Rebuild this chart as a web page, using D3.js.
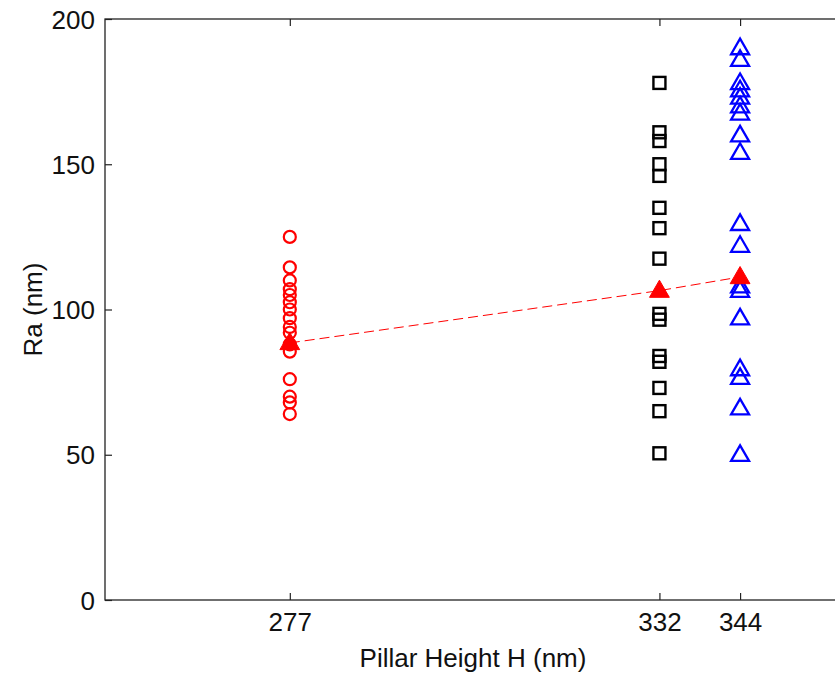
<!DOCTYPE html>
<html>
<head>
<meta charset="utf-8">
<script src="https://cdn.jsdelivr.net/npm/d3@7"></script>
<style>
  html, body { margin: 0; padding: 0; background: #fff; overflow: hidden; }
  svg { display: block; }
  text { font-family: "Liberation Sans", Arial, sans-serif; fill: #111; }
</style>
</head>
<body>
<script>
// Pillar heights (nm) used as x categories / tick labels
const heights = [277, 332, 344];
const xTicks = [277, 332, 344];
const yTicks = [0, 50, 100, 150, 200];

// Ra measurements (nm) for each pillar height
const ra277 = [125, 114.5, 110, 107, 105, 102.5, 100, 97, 94, 92, 88, 85.5, 76, 70, 68, 64];
const ra332 = [178, 161, 158, 150, 146, 135, 128, 117.5, 98.5, 96.5, 84, 82, 73, 65, 50.5];
const ra344 = [190, 186, 178, 175.5, 173, 170, 167.5, 160, 154, 129.5, 122, 108, 106.5, 97, 79.5, 76.5, 66, 50];

// Average Ra per height (filled red markers joined by dashed line)
const raMean = [88.5, 106.5, 111.2];

const W = 835, H = 675;
const margin = { left: 105, top: 19, bottom: 75 };
const plotRight = 847.6; // axes box continues past the window edge

const svg = d3.select("body").append("svg").attr("width", W).attr("height", H);

const x = d3.scaleLinear().domain([249.5, 360]).range([margin.left, plotRight]);
const y = d3.scaleLinear().domain([0, 200]).range([H - margin.bottom, margin.top]);

const axisColor = "#222";
const tickLen = 7;
const fontSize = 26;

// axes box
svg.append("rect")
  .attr("x", margin.left).attr("y", margin.top)
  .attr("width", plotRight - margin.left).attr("height", y(0) - margin.top)
  .attr("fill", "none").attr("stroke", axisColor).attr("stroke-width", 1.3);

// bottom axis (ticks inward)
const xAxis = svg.append("g").attr("transform", `translate(0,${y(0)})`)
  .call(d3.axisBottom(x).tickValues(xTicks).tickSizeInner(-tickLen).tickSizeOuter(0).tickPadding(13).tickFormat(d3.format("d")));
// top mirrored ticks
const xTop = svg.append("g").attr("transform", `translate(0,${y(200)})`)
  .call(d3.axisTop(x).tickValues(xTicks).tickSizeInner(-tickLen).tickSizeOuter(0).tickFormat(""));
// left axis (ticks inward)
const yAxis = svg.append("g").attr("transform", `translate(${margin.left},0)`)
  .call(d3.axisLeft(y).tickValues(yTicks).tickSizeInner(-tickLen).tickSizeOuter(0).tickPadding(10).tickFormat(d3.format("d")));

[xAxis, xTop, yAxis].forEach(g => {
  g.select(".domain").remove();
  g.selectAll(".tick line").attr("stroke", axisColor).attr("stroke-width", 1.2);
  g.selectAll(".tick text").attr("font-size", fontSize).attr("fill", "#111")
    .attr("font-family", "Liberation Sans, Arial, sans-serif");
});
yAxis.selectAll(".tick text").attr("dy", "0.35em");

// axis titles
svg.append("text")
  .attr("x", 473).attr("y", 667)
  .attr("text-anchor", "middle").attr("font-size", fontSize)
  .text("Pillar Height H (nm)");
svg.append("text")
  .attr("transform", `translate(42,${(y(0) + y(200)) / 2}) rotate(-90)`)
  .attr("text-anchor", "middle").attr("font-size", fontSize)
  .text("Ra (nm)");

const plot = svg.append("g");

// red circles, H = 277
plot.selectAll("circle.r277").data(ra277).join("circle")
  .attr("cx", x(heights[0])).attr("cy", d => y(d)).attr("r", 6)
  .attr("fill", "none").attr("stroke", "#ff0000").attr("stroke-width", 2.2);

// black squares, H = 332
const sq = 12;
plot.selectAll("rect.r332").data(ra332).join("rect")
  .attr("x", x(heights[1]) - sq / 2).attr("y", d => y(d) - sq / 2)
  .attr("width", sq).attr("height", sq)
  .attr("fill", "none").attr("stroke", "#000").attr("stroke-width", 2.4);

// blue triangles, H = 344
const tri = d3.symbol().type(d3.symbolTriangle).size(140);
plot.selectAll("path.r344").data(ra344).join("path")
  .attr("d", tri)
  .attr("transform", d => `translate(${x(heights[2])},${y(d) + 1})`)
  .attr("fill", "none").attr("stroke", "#0000ff").attr("stroke-width", 2.3);

// dashed mean line
const meanPts = heights.map((h, i) => [h, raMean[i]]);
plot.append("path")
  .datum(meanPts)
  .attr("d", d3.line().x(d => x(d[0])).y(d => y(d[1])))
  .attr("fill", "none").attr("stroke", "#ff0000").attr("stroke-width", 1)
  .attr("stroke-dasharray", "10,5");

// filled mean markers
plot.selectAll("path.mean").data(meanPts).join("path")
  .attr("d", d3.symbol().type(d3.symbolTriangle).size(170))
  .attr("transform", d => `translate(${x(d[0])},${y(d[1]) + 1})`)
  .attr("fill", "#ff0000").attr("stroke", "#ff0000").attr("stroke-width", 1);
</script>
</body>
</html>
